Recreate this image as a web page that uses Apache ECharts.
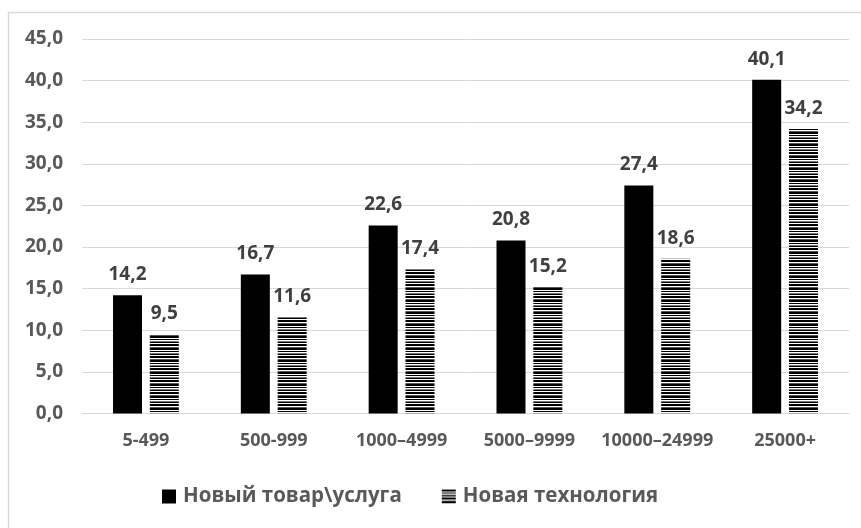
<!DOCTYPE html>
<html><head><meta charset="utf-8">
<script src="https://cdn.jsdelivr.net/npm/echarts@6/dist/echarts.min.js"></script>
<style>html,body{margin:0;padding:0;background:#fff}#c{width:861px;height:528px}</style>
</head><body><div id="c"></div>
<script>
const categories = ['5-499', '500-999', '1000–4999', '5000–9999', '10000–24999', '25000+'];
const seriesNames = ['Новый товар\\услуга', 'Новая технология'];
const newProduct = [14.2, 16.7, 22.6, 20.8, 27.4, 40.1];
const newTech = [9.5, 11.6, 17.4, 15.2, 18.6, 34.2];
const yTicks = [0, 5, 10, 15, 20, 25, 30, 35, 40, 45];

function makeHatch() {
  const c = document.createElement('canvas');
  c.width = 4; c.height = 12;
  const g = c.getContext('2d');
  g.fillStyle = '#fff'; g.fillRect(0, 0, 4, 12);
  const rows = ['#000','#000','#fff','#000','#fff','#777','#000','#fff','#000','#000','#fff','#555'];
  rows.forEach((col, i) => { g.fillStyle = col; g.fillRect(0, i, 4, 1); });
  return c;
}
const hatch = makeHatch();
const FONT = '"Open Sans", "Noto Sans", sans-serif';
const chart = echarts.init(document.getElementById('c'), null, {renderer: 'canvas'});
const fmt = v => v.toFixed(1).replace('.', ',');
chart.setOption({
  animation: false,
  backgroundColor: '#fff',
  graphic: [{type: 'rect', shape: {x: 8.5, y: 12.5, width: 900, height: 600}, style: {fill: 'none', stroke: '#d9d9d9', lineWidth: 1.5}, silent: true}],
  grid: {left: 82, right: 12, top: 39, bottom: 114.5, containLabel: false},
  legend: {
    bottom: 16, left: 157, itemGap: 40, itemWidth: 14, itemHeight: 14,
    textStyle: {fontFamily: FONT, fontSize: 20.5, fontWeight: 'bold', color: '#595959', padding: [0, 0, 0, 2]},
    data: [
      {name: seriesNames[0], icon: 'rect', itemStyle: {color: '#000'}},
      {name: seriesNames[1], icon: 'rect', itemStyle: {color: {image: hatch, repeat: 'repeat'}}}
    ]
  },
  xAxis: {
    type: 'category', data: categories,
    axisLine: {lineStyle: {color: '#d9d9d9', width: 1}}, axisTick: {show: false},
    axisLabel: {interval: 0, hideOverlap: false, fontFamily: FONT, fontSize: 18, fontWeight: 'bold', color: '#595959', margin: 18}
  },
  yAxis: {
    type: 'value', min: 0, max: 45, interval: 5,
    axisLine: {show: false}, axisTick: {show: false},
    splitLine: {lineStyle: {color: '#d9d9d9', width: 1}},
    axisLabel: {fontFamily: FONT, fontSize: 19, fontWeight: 'bold', color: '#595959', margin: 19, formatter: v => fmt(v)}
  },
  series: [
    {name: seriesNames[0], type: 'bar', data: newProduct, barWidth: 29, barGap: '27%',
     itemStyle: {color: '#000'},
     label: {show: true, position: 'top', distance: 11, fontFamily: FONT, fontSize: 19, fontWeight: 'bold', color: '#404040', formatter: p => fmt(p.value)}},
    {name: seriesNames[1], type: 'bar', data: newTech, barWidth: 29,
     itemStyle: {color: {image: hatch, repeat: 'repeat'}},
     label: {show: true, position: 'top', distance: 11, fontFamily: FONT, fontSize: 19, fontWeight: 'bold', color: '#404040', formatter: p => fmt(p.value)}}
  ]
});
</script></body></html>
